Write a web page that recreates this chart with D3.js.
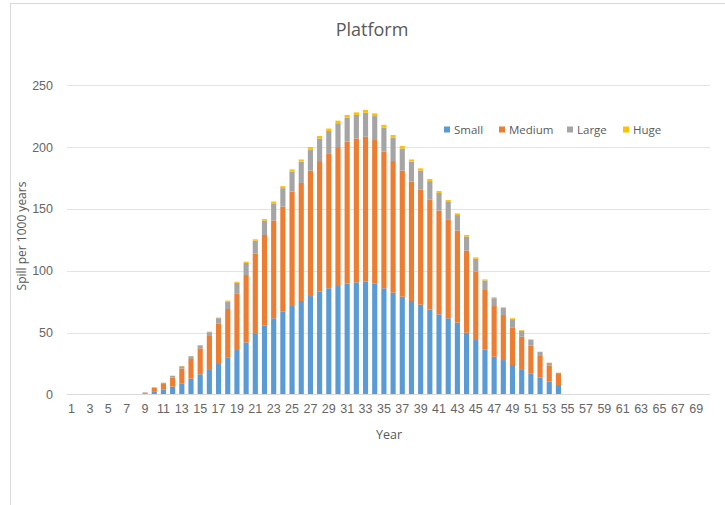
<!DOCTYPE html>
<html>
<head>
<meta charset="utf-8">
<script src="https://cdn.jsdelivr.net/npm/d3@7"></script>
<style>
  html, body { margin: 0; padding: 0; background: #fff; }
  svg { display: block; font-family: "Open Sans", "Noto Sans", sans-serif; }
</style>
</head>
<body>
<svg id="chart" width="725" height="505"></svg>
<script>
// Spill per 1000 years by year, split by spill size class
const years = d3.range(1, 71);
const seriesNames = ["Small", "Medium", "Large", "Huge"];
const seriesColors = ["#5B9BD5", "#ED7D31", "#A5A5A5", "#FFC000"];
const yTicks = [0, 50, 100, 150, 200, 250];

// values for years 1..70 (years 1-8 and 55-70 are zero)
const zeros8 = [0, 0, 0, 0, 0, 0, 0, 0];
const zeros16 = d3.range(16).map(() => 0);
const small = zeros8.concat([
  0.4, 2.5, 4.0, 6.2, 8.9, 12.7, 16.2, 19.7, 24.5, 30.0,
  35.8, 42.0, 48.8, 55.8, 61.5, 66.8, 71.4, 75.5, 79.5, 83.0,
  85.8, 87.6, 89.5, 90.6, 91.1, 89.8, 85.8, 82.2, 79.0, 75.5,
  72.5, 68.7, 64.7, 61.5, 58.0, 49.8, 43.9, 36.4, 30.4, 27.7,
  23.7, 19.7, 17.0, 13.7, 10.2, 7.5
]).concat(zeros16);
const medium = zeros8.concat([
  0.9, 2.7, 4.4, 7.3, 11.9, 15.9, 21.0, 27.5, 32.9, 39.0,
  45.9, 54.5, 65.2, 73.1, 79.2, 85.0, 92.6, 95.5, 101.5, 105.7,
  109.2, 112.4, 114.9, 116.4, 117.3, 115.9, 110.5, 106.5, 102.0, 96.5,
  93.3, 89.0, 83.9, 80.1, 74.4, 66.4, 55.3, 48.0, 41.0, 36.5,
  30.5, 26.9, 22.3, 17.3, 12.9, 8.9
]).concat(zeros16);
const large = zeros8.concat([
  0.3, 0.5, 0.9, 1.4, 1.9, 2.2, 2.4, 3.1, 4.2, 6.1,
  8.5, 9.8, 10.2, 11.6, 13.8, 15.0, 16.2, 17.2, 17.1, 18.3,
  18.0, 19.3, 19.5, 19.0, 19.4, 19.4, 19.5, 19.0, 17.9, 16.2,
  15.3, 14.8, 14.3, 14.0, 12.6, 11.4, 10.4, 7.7, 6.4, 5.6,
  6.6, 4.9, 4.7, 3.2, 2.3, 1.0
]).concat(zeros16);
const huge = zeros8.concat([
  0.0, 0.0, 0.1, 0.2, 0.2, 0.2, 0.3, 0.4, 0.5, 0.7,
  0.9, 1.0, 1.2, 1.3, 1.5, 1.6, 1.8, 1.8, 1.9, 2.0,
  2.0, 2.1, 2.1, 2.1, 2.2, 2.2, 2.2, 2.1, 2.0, 1.8,
  1.7, 1.7, 1.6, 1.6, 1.4, 1.3, 1.2, 0.9, 0.7, 0.6,
  0.7, 0.5, 0.5, 0.3, 0.2, 0.1
]).concat(zeros16);

const table = years.map((y, i) => ({
  year: y, Small: small[i], Medium: medium[i], Large: large[i], Huge: huge[i]
}));

const svg = d3.select("#chart");
const plot = { left: 67, right: 710, top: 85.3, bottom: 394.3 };

// chart frame
svg.append("rect")
  .attr("x", 10.5).attr("y", 3.5)
  .attr("width", 800).attr("height", 600)
  .attr("fill", "#fff").attr("stroke", "#d9d9d9");

const x = d3.scaleBand()
  .domain(years)
  .range([plot.left, plot.right])
  .paddingInner(0.44)
  .paddingOuter(0.22);

const y = d3.scaleLinear()
  .domain([0, 250])
  .range([plot.bottom, plot.top]);

// gridlines
svg.append("g")
  .selectAll("line")
  .data(yTicks.filter(t => t > 0))
  .join("line")
  .attr("x1", plot.left).attr("x2", plot.right)
  .attr("y1", d => Math.round(y(d)) + 0.5).attr("y2", d => Math.round(y(d)) + 0.5)
  .attr("stroke", "#e3e3e3").attr("stroke-width", 1);

// y tick labels
const yAxis = svg.append("g")
  .attr("transform", `translate(${plot.left},0)`)
  .call(d3.axisLeft(y).tickValues(yTicks).tickSize(0).tickPadding(14));
yAxis.select(".domain").remove();
yAxis.selectAll("text")
  .attr("fill", "#666").style("font-size", "12.5px");

// stacked bars
const stack = d3.stack().keys(seriesNames);
const layers = stack(table);

svg.append("g")
  .selectAll("g")
  .data(layers)
  .join("g")
  .attr("fill", (d, i) => seriesColors[i])
  .selectAll("rect")
  .data(d => d.filter(p => p[1] - p[0] > 0))
  .join("rect")
  .attr("x", d => x(d.data.year))
  .attr("width", x.bandwidth())
  .attr("y", d => y(d[1]))
  .attr("height", d => y(d[0]) - y(d[1]));

// x axis line and tick labels
const xAxis = svg.append("g")
  .attr("transform", `translate(0,${Math.round(plot.bottom) + 0.5})`)
  .call(d3.axisBottom(x)
    .tickValues(years.filter(v => v % 2 === 1))
    .tickSize(0).tickPadding(10));
xAxis.select(".domain")
  .attr("d", `M${plot.left},0H${plot.right}`)
  .attr("stroke", "#d9d9d9");
xAxis.selectAll("text")
  .attr("fill", "#666").style("font-size", "12.5px");

// title
svg.append("text")
  .attr("x", 372).attr("y", 36)
  .attr("text-anchor", "middle")
  .attr("fill", "#595959")
  .style("font-size", "18px")
  .text("Platform");

// axis titles
svg.append("text")
  .attr("x", 389).attr("y", 439)
  .attr("text-anchor", "middle")
  .attr("fill", "#595959")
  .style("font-size", "12.5px")
  .text("Year");

svg.append("text")
  .attr("transform", "translate(26,236) rotate(-90)")
  .attr("text-anchor", "middle")
  .attr("fill", "#595959")
  .style("font-size", "12px")
  .text("Spill per 1000 years");

// legend
const legendX = [444, 499, 567, 623];
const legend = svg.append("g")
  .selectAll("g")
  .data(seriesNames)
  .join("g")
  .attr("transform", (d, i) => `translate(${legendX[i]},130)`);
legend.append("rect")
  .attr("x", 0).attr("y", -3.5)
  .attr("width", 6).attr("height", 6)
  .attr("fill", (d, i) => seriesColors[i]);
legend.append("text")
  .attr("x", 10).attr("y", 4)
  .attr("fill", "#595959")
  .style("font-size", "11.5px")
  .text(d => d);
</script>
</body>
</html>
